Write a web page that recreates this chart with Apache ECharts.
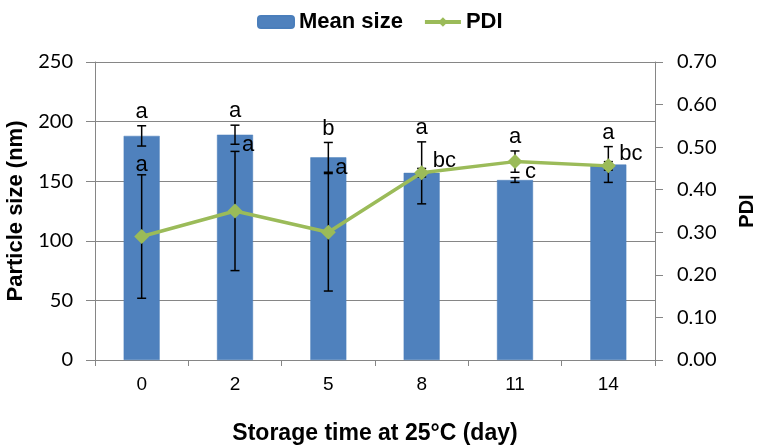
<!DOCTYPE html>
<html><head><meta charset="utf-8">
<script src="https://cdn.jsdelivr.net/npm/echarts@6/dist/echarts.min.js"></script>
<style>html,body{margin:0;padding:0;background:#fff}#c{width:763px;height:447px}</style>
</head><body><div id="c"></div>
<script>
const days = ['0', '2', '5', '8', '11', '14'];
const meanSize = [188, 189, 170, 157, 151, 164];
const meanSizeSD = [8.5, 8, 12.5, 26, 2, 15];
const pdi = [0.29, 0.35, 0.30, 0.44, 0.466, 0.456];
const pdiSD = [0.145, 0.14, 0.138, 0.01, 0.025, 0.01];
const sizeLetters = ['a', 'a', 'b', 'a', 'a', 'a'];
const pdiLetters = ['a', 'a', 'a', 'bc', 'c', 'bc'];
const sizeAxis = { min: 0, max: 250, interval: 50 };
const pdiAxis = { min: 0, max: 0.7, interval: 0.1 };

// label placement styles for PDI letters
const pdiLabelPlace = ['above', 'capRight', 'capRight', 'right', 'lowRight', 'right'];

const BLUE = '#4F81BD', GREEN = '#9BBB59', GRID = '#868686';
const tickFont = 'Lato, "Open Sans", sans-serif';
const ARIAL = 'Arial, "Liberation Sans", sans-serif';
const ratio = sizeAxis.max / pdiAxis.max;

function errRender(params, api) {
  const i = api.value(0), v = api.value(1), s = api.value(2);
  const t = api.coord([i, v + s]), b = api.coord([i, v - s]);
  const hw = 4.5, st = { stroke: '#000', lineWidth: 1.5 };
  return { type: 'group', children: [
    { type: 'line', shape: { x1: t[0], y1: t[1], x2: b[0], y2: b[1] }, style: st },
    { type: 'line', shape: { x1: t[0] - hw, y1: t[1], x2: t[0] + hw, y2: t[1] }, style: st },
    { type: 'line', shape: { x1: b[0] - hw, y1: b[1], x2: b[0] + hw, y2: b[1] }, style: st }
  ]};
}

function labelRender(params, api) {
  const i = api.value(0);
  const barTop = api.coord([i, meanSize[i] + meanSizeSD[i]]);
  const pCapTop = api.coord([i, (pdi[i] + pdiSD[i]) * ratio]);
  const pCapLow = api.coord([i, (pdi[i] - pdiSD[i]) * ratio]);
  const pPt = api.coord([i, pdi[i] * ratio]);
  const font = '22px ' + ARIAL;
  const topY = Math.min(barTop[1], pCapTop[1]);
  const children = [
    { type: 'text', x: barTop[0], y: topY - 14,
      style: { text: sizeLetters[i], font, fill: '#000', align: 'center', verticalAlign: 'middle' } }
  ];
  let x, y, align = 'left';
  const place = pdiLabelPlace[i];
  if (place === 'above') { x = pPt[0]; y = pCapTop[1] - 10; align = 'center'; }
  else if (place === 'capRight') { x = pPt[0] + 7; y = pCapTop[1] - 6; }
  else if (place === 'right') { x = pPt[0] + 11; y = pPt[1] - 12; }
  else { x = pPt[0] + 10; y = pCapLow[1]; }
  children.push({ type: 'text', x, y,
    style: { text: pdiLetters[i], font, fill: '#000', align, verticalAlign: 'middle' } });
  return { type: 'group', children };
}

const chart = echarts.init(document.getElementById('c'), null, { renderer: 'canvas' });
chart.setOption({
  animation: false,
  backgroundColor: '#fff',
  legend: {
    data: [
      { name: 'Mean size', itemStyle: { color: BLUE } },
      { name: 'PDI', lineStyle: { color: GREEN, width: 4 }, itemStyle: { color: GREEN } }
    ],
    left: 252, top: 6, itemGap: 20, itemWidth: 36, itemHeight: 12,
    textStyle: { fontFamily: ARIAL, fontWeight: 'bold', fontSize: 22, color: '#000' }
  },
  grid: { left: 95, right: 108, top: 62, bottom: 87, containLabel: false, outerBoundsMode: 'none' },
  xAxis: {
    type: 'category', data: days,
    name: 'Storage time at 25\u00B0C (day)', nameLocation: 'middle', nameGap: 62,
    nameTextStyle: { fontFamily: ARIAL, fontWeight: 'bold', fontSize: 23, color: '#000' },
    axisLine: { lineStyle: { color: GRID, width: 1 } },
    axisTick: { show: true, length: 6, lineStyle: { color: GRID } },
    axisLabel: { fontFamily: ARIAL, fontSize: 19, color: '#000', margin: 15 }
  },
  yAxis: [
    {
      type: 'value', min: sizeAxis.min, max: sizeAxis.max, interval: sizeAxis.interval,
      name: 'Particle size (nm)', nameLocation: 'middle', nameGap: 67,
      nameTextStyle: { fontFamily: ARIAL, fontWeight: 'bold', fontSize: 22, color: '#000' },
      axisLine: { show: true, lineStyle: { color: GRID, width: 1 } },
      axisTick: { show: true, length: 9, lineStyle: { color: GRID } },
      axisLabel: { fontFamily: tickFont, fontSize: 20, color: '#000', margin: 22 },
      splitLine: { show: true, lineStyle: { color: GRID, width: 1 } }
    },
    {
      type: 'value', min: pdiAxis.min, max: pdiAxis.max, interval: pdiAxis.interval, position: 'right',
      name: 'PDI', nameLocation: 'middle', nameGap: 82,
      nameTextStyle: { fontFamily: ARIAL, fontWeight: 'bold', fontSize: 20, color: '#000' },
      axisLine: { show: true, lineStyle: { color: GRID, width: 1 } },
      axisTick: { show: true, length: 8, lineStyle: { color: GRID } },
      axisLabel: { fontFamily: tickFont, fontSize: 20, color: '#000', margin: 22, formatter: v => v.toFixed(2) },
      splitLine: { show: false }
    }
  ],
  series: [
    { name: 'Mean size', type: 'bar', data: meanSize, barWidth: 36, yAxisIndex: 0,
      itemStyle: { color: BLUE, borderColor: '#4A7EBB', borderWidth: 0.5 }, z: 2 },
    { name: 'sizeErr', type: 'custom', yAxisIndex: 0, z: 3, renderItem: errRender,
      data: days.map((d, i) => [i, meanSize[i], meanSizeSD[i]]) },
    { name: 'pdiErr', type: 'custom', yAxisIndex: 1, z: 3, renderItem: errRender,
      data: days.map((d, i) => [i, pdi[i], pdiSD[i]]) },
    { name: 'PDI', type: 'line', data: pdi, yAxisIndex: 1, symbol: 'diamond', symbolSize: 15,
      lineStyle: { color: GREEN, width: 3.5 }, itemStyle: { color: GREEN }, z: 4 },
    { name: 'letters', type: 'custom', yAxisIndex: 0, z: 5, renderItem: labelRender,
      data: days.map((d, i) => [i, meanSize[i]]) }
  ]
});
</script></body></html>
